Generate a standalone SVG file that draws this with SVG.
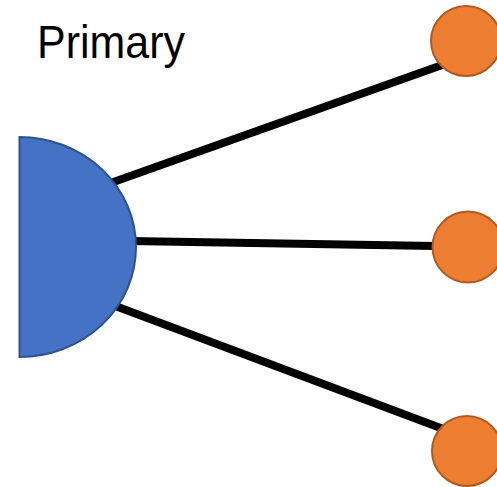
<svg xmlns="http://www.w3.org/2000/svg" width="497" height="487" viewBox="0 0 497 487">
<style>
.conn{stroke:#000;stroke-width:8;fill:none}
.leaf{fill:#ED7D31;stroke:#AE5A21;stroke-width:2}
.prim{fill:#4472C4;stroke:#2F528F;stroke-width:2}
.lbl{font-family:"Liberation Sans",Arial,sans-serif;font-size:46px;fill:#000}
</style>
<rect width="497" height="487" fill="#fff"/>
<g id="connectors">
<line class="conn" x1="105" y1="185" x2="445" y2="64"/>
<line class="conn" x1="130" y1="241" x2="435" y2="246"/>
<line class="conn" x1="110" y1="304" x2="446" y2="430"/>
</g>
<g id="primary">
<path class="prim" d="M19.5,137 A116.5,110 0 0 1 19.5,357 Z"/>
</g>
<g id="leaf1"><circle class="leaf" cx="466" cy="41" r="35"/></g>
<g id="leaf2"><circle class="leaf" cx="468" cy="247" r="35.5"/></g>
<g id="leaf3"><circle class="leaf" cx="467" cy="451" r="35"/></g>
<g id="label"><text class="lbl" x="37" y="58" textLength="148" lengthAdjust="spacingAndGlyphs">Primary</text></g>
</svg>
